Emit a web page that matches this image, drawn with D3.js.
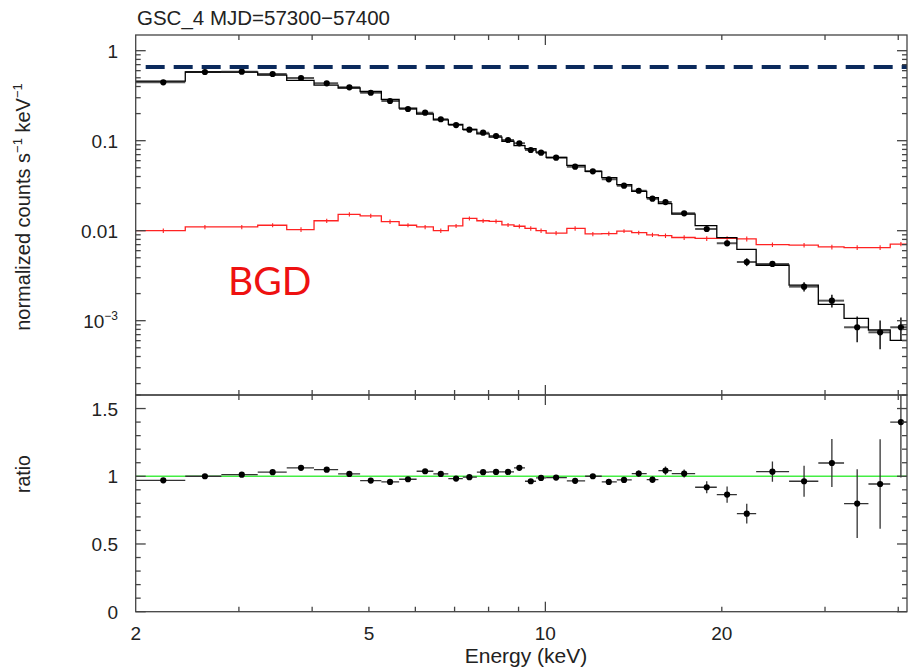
<!DOCTYPE html>
<html><head><meta charset="utf-8">
<script src="https://cdn.jsdelivr.net/npm/d3@7"></script>
<style>body{margin:0;background:#fff} svg{display:block}</style>
</head><body>
<svg id="c" width="908" height="668"></svg>
<script>
// ---------------- data ----------------
const binEdges = [2.00, 2.43, 2.80, 3.23, 3.62, 4.03, 4.43, 4.83, 5.25, 5.63, 6.03, 6.44, 6.83, 7.23, 7.64, 8.02, 8.43, 8.84, 9.23, 9.64, 10.03, 10.88, 11.69, 12.48, 13.24, 14.04, 14.89, 15.59, 16.43, 18.01, 19.61, 21.22, 22.89, 26.05, 29.22, 32.33, 35.58, 38.76, 42.1];
const energy = [2.229, 2.625, 3.034, 3.425, 3.829, 4.236, 4.630, 5.036, 5.432, 5.829, 6.235, 6.631, 7.041, 7.419, 7.830, 8.238, 8.636, 9.028, 9.442, 9.832, 10.43, 11.24, 12.05, 12.83, 13.62, 14.43, 15.23, 16.03, 17.25, 18.85, 20.42, 22.06, 24.40, 27.63, 30.82, 34.04, 37.25, 40.42];
const flux = [0.445, 0.580, 0.584, 0.551, 0.497, 0.434, 0.392, 0.341, 0.276, 0.225, 0.205, 0.173, 0.149, 0.1325, 0.1227, 0.1128, 0.1018, 0.0936, 0.0788, 0.0736, 0.0647, 0.0514, 0.0457, 0.0372, 0.0316, 0.0278, 0.0227, 0.0208, 0.0156, 0.01044, 0.00724, 0.00449, 0.00427, 0.00239, 0.00167, 0.000845, 0.000743, 0.000845];
const fluxErr = [0.004, 0.005, 0.005, 0.005, 0.004, 0.004, 0.003, 0.003, 0.0025, 0.002, 0.002, 0.0017, 0.0015, 0.0013, 0.0012, 0.0011, 0.001, 0.001, 0.0012, 0.0011, 0.0008, 0.0008, 0.0007, 0.0006, 0.0006, 0.0006, 0.0006, 0.0007, 0.0005, 0.0005, 0.0005, 0.00045, 0.0003, 0.00028, 0.00027, 0.00027, 0.00026, 0.00024];
const model = [0.459, 0.580, 0.577, 0.535, 0.468, 0.414, 0.385, 0.352, 0.288, 0.230, 0.198, 0.170, 0.152, 0.1334, 0.1191, 0.1093, 0.0986, 0.0881, 0.0818, 0.0745, 0.0654, 0.0532, 0.0457, 0.0388, 0.0325, 0.0273, 0.0233, 0.0200, 0.0153, 0.01136, 0.00837, 0.0062, 0.00413, 0.00248, 0.00152, 0.00106, 0.000788, 0.000604];
const ratio = [0.970, 1.000, 1.012, 1.030, 1.062, 1.049, 1.017, 0.968, 0.958, 0.978, 1.037, 1.017, 0.983, 0.993, 1.030, 1.032, 1.032, 1.062, 0.963, 0.988, 0.990, 0.966, 1.000, 0.958, 0.973, 1.020, 0.975, 1.042, 1.020, 0.919, 0.865, 0.724, 1.034, 0.963, 1.098, 0.798, 0.943, 1.400];
const ratioErr = [0.009, 0.009, 0.009, 0.009, 0.009, 0.009, 0.009, 0.009, 0.009, 0.009, 0.01, 0.01, 0.01, 0.01, 0.01, 0.01, 0.012, 0.012, 0.016, 0.016, 0.013, 0.015, 0.016, 0.016, 0.02, 0.022, 0.024, 0.03, 0.03, 0.044, 0.06, 0.073, 0.075, 0.115, 0.177, 0.254, 0.33, 0.41];
const bgd = [0.0100, 0.0110, 0.0110, 0.0115, 0.0103, 0.0129, 0.0152, 0.0146, 0.0126, 0.0115, 0.0110, 0.0100, 0.0113, 0.0137, 0.0129, 0.0127, 0.0116, 0.0112, 0.0106, 0.0100, 0.0094, 0.0106, 0.0092, 0.0093, 0.0099, 0.0095, 0.0090, 0.0088, 0.0084, 0.0082, 0.0082, 0.0081, 0.0070, 0.0069, 0.0066, 0.0065, 0.0065, 0.0071];
const bgdErr = [0.0006, 0.0006, 0.0006, 0.0006, 0.0006, 0.0007, 0.0008, 0.0008, 0.0007, 0.0006, 0.0006, 0.0006, 0.0006, 0.0007, 0.0007, 0.0007, 0.0006, 0.0006, 0.0006, 0.0006, 0.0005, 0.0006, 0.0005, 0.0005, 0.0005, 0.0005, 0.0005, 0.0005, 0.0005, 0.0005, 0.0005, 0.0005, 0.0004, 0.0004, 0.0004, 0.0004, 0.0004, 0.0004];
const refLevel = [0.66];
const refStart = [2.08];
const xDomain = [2, 41.4];
const yTopDomain = [1.494e-4, 1.494];
const yRatioDomain = [0, 1.6];
const xLabelTicks = [2, 5, 10, 20];
const xMajorTicks = [10];
const xMinorTicks = [3, 4, 5, 6, 7, 8, 9, 20, 30, 40];
const yTopLabels = [[1, "1"], [0.1, "0.1"], [0.01, "0.01"], [0.001, "10", "−3"]];
const yRatioMajor = [0, 0.5, 1, 1.5];
const yRatioMinor = [0.1, 0.2, 0.3, 0.4, 0.6, 0.7, 0.8, 0.9, 1.1, 1.2, 1.3, 1.4, 1.6];
const titleText = "GSC_4 MJD=57300−57400";

// ---------------- layout ----------------
const L = 135.7, R = 907, T1 = 35, B1 = 395, T2 = 395, B2 = 611.7;
const svg = d3.select("#c");
const FONT = "'Liberation Sans', Arial, Helvetica, sans-serif";
const TXT = "#222";
const AX = "#444";

const x = d3.scaleLog().domain(xDomain).range([L, R]);
const yT = d3.scaleLog().domain(yTopDomain).range([B1, T1]);
const yR = d3.scaleLinear().domain(yRatioDomain).range([B2, T2]);

const defs = svg.append("defs");
defs.append("clipPath").attr("id", "clipT").append("rect").attr("x", L).attr("y", T1).attr("width", R - L).attr("height", B1 - T1);
defs.append("clipPath").attr("id", "clipR").append("rect").attr("x", L).attr("y", T2).attr("width", R - L).attr("height", B2 - T2);

// ---------------- top panel ----------------
const gT = svg.append("g").attr("clip-path", "url(#clipT)");
const n = flux.length;
const stepPts = arr => binEdges.map((e, i) => [e, arr[Math.min(i, n - 1)]]);
const stepLine = d3.line().x(d => x(d[0])).y(d => yT(d[1])).curve(d3.curveStepAfter);

// background (red)
gT.append("path").attr("d", stepLine(stepPts(bgd))).attr("fill", "none").attr("stroke", "#ff2222").attr("stroke-width", 1.3);
gT.selectAll(".bt").data(energy).join("line")
  .attr("x1", d => x(d)).attr("x2", d => x(d))
  .attr("y1", (d, i) => yT(bgd[i] - bgdErr[i])).attr("y2", (d, i) => yT(bgd[i] + bgdErr[i]))
  .attr("stroke", "#ff2222").attr("stroke-width", 1.1);

// data bars
gT.selectAll(".hb").data(energy).join("line")
  .attr("x1", (d, i) => x(binEdges[i])).attr("x2", (d, i) => x(binEdges[i + 1]))
  .attr("y1", (d, i) => yT(flux[i])).attr("y2", (d, i) => yT(flux[i]))
  .attr("stroke", "#555").attr("stroke-width", 2);
gT.selectAll(".vb").data(energy).join("line")
  .attr("x1", d => x(d)).attr("x2", d => x(d))
  .attr("y1", (d, i) => yT(flux[i] - fluxErr[i])).attr("y2", (d, i) => yT(flux[i] + fluxErr[i]))
  .attr("stroke", "#222").attr("stroke-width", 1.6);
// model step (black)
gT.append("path").attr("d", stepLine(stepPts(model))).attr("fill", "none").attr("stroke", "#000").attr("stroke-width", 1.3);
gT.selectAll(".dt").data(energy).join("circle")
  .attr("cx", d => x(d)).attr("cy", (d, i) => yT(flux[i])).attr("r", 3.1).attr("fill", "#000");

// reference dashed level
gT.append("line").attr("x1", x(refStart[0])).attr("x2", R).attr("y1", yT(refLevel[0])).attr("y2", yT(refLevel[0]))
  .attr("stroke", "#0b2a5c").attr("stroke-width", 4).attr("stroke-dasharray", "19 9");

// ---------------- ratio panel ----------------
const gR = svg.append("g").attr("clip-path", "url(#clipR)");
gR.append("line").attr("x1", L).attr("x2", R).attr("y1", yR(1)).attr("y2", yR(1)).attr("stroke", "#44ee44").attr("stroke-width", 1.5);
gR.selectAll(".rh").data(energy).join("line")
  .attr("x1", (d, i) => x(binEdges[i])).attr("x2", (d, i) => x(binEdges[i + 1]))
  .attr("y1", (d, i) => yR(ratio[i])).attr("y2", (d, i) => yR(ratio[i]))
  .attr("stroke", "#333").attr("stroke-width", 1.3);
gR.selectAll(".rv").data(energy).join("line")
  .attr("x1", d => x(d)).attr("x2", d => x(d))
  .attr("y1", (d, i) => yR(ratio[i] - ratioErr[i])).attr("y2", (d, i) => yR(ratio[i] + ratioErr[i]))
  .attr("stroke", "#333").attr("stroke-width", 1.3);
gR.selectAll(".rd").data(energy).join("circle")
  .attr("cx", d => x(d)).attr("cy", (d, i) => yR(ratio[i])).attr("r", 3.1).attr("fill", "#000");

// ---------------- axes / frames ----------------
const gA = svg.append("g").attr("stroke", AX).attr("stroke-width", 1.3);
function frame(top, bot) {
  gA.append("rect").attr("x", L).attr("y", top).attr("width", R - L).attr("height", bot - top).attr("fill", "none");
}
frame(T1, B1); frame(T2, B2);
function xTicksFor(top, bot) {
  xMinorTicks.forEach(v => {
    gA.append("line").attr("x1", x(v)).attr("x2", x(v)).attr("y1", top).attr("y2", top + 5);
    gA.append("line").attr("x1", x(v)).attr("x2", x(v)).attr("y1", bot).attr("y2", bot - 5);
  });
  xMajorTicks.forEach(v => {
    gA.append("line").attr("x1", x(v)).attr("x2", x(v)).attr("y1", top).attr("y2", top + 10);
    gA.append("line").attr("x1", x(v)).attr("x2", x(v)).attr("y1", bot).attr("y2", bot - 10);
  });
}
xTicksFor(T1, B1); xTicksFor(T2, B2);
function yTick(yy, len) {
  gA.append("line").attr("x1", L).attr("x2", L + len).attr("y1", yy).attr("y2", yy);
  gA.append("line").attr("x1", R).attr("x2", R - len).attr("y1", yy).attr("y2", yy);
}
for (let e = -4; e <= 0; e++) {
  for (let m = 1; m <= 9; m++) {
    const v = m * Math.pow(10, e);
    if (v < yTopDomain[0] || v > yTopDomain[1]) continue;
    yTick(yT(v), m === 1 ? 10 : 5);
  }
}
yRatioMajor.forEach(v => yTick(yR(v), 10));
yRatioMinor.forEach(v => yTick(yR(v), 5));

// ---------------- text ----------------
const gt = svg.append("g").attr("font-family", FONT).attr("fill", TXT);
gt.append("text").attr("x", 137).attr("y", 25).attr("font-size", 20.5).text(titleText);

yTopLabels.forEach(d => {
  const t = gt.append("text").attr("x", 118).attr("y", yT(d[0]) + 7).attr("text-anchor", "end").attr("font-size", 19);
  if (d.length > 2) {
    t.append("tspan").text(d[1]);
    t.append("tspan").attr("font-size", 12).attr("dy", -8).text(d[2]);
  } else t.text(d[1]);
});
yRatioMajor.forEach(v => {
  gt.append("text").attr("x", 118).attr("y", yR(v) + 7).attr("text-anchor", "end").attr("font-size", 19).text(v === 0 ? "0" : String(v));
});
xLabelTicks.forEach(v => {
  gt.append("text").attr("x", x(v)).attr("y", 640).attr("text-anchor", "middle").attr("font-size", 19).text(String(v));
});
gt.append("text").attr("x", 526).attr("y", 663).attr("text-anchor", "middle").attr("font-size", 21).text("Energy (keV)");

const yl = gt.append("text").attr("transform", "translate(30,207) rotate(-90)").attr("text-anchor", "middle").attr("font-size", 20);
yl.append("tspan").text("normalized counts s");
yl.append("tspan").attr("font-size", 13).attr("dy", -8).text("−1");
yl.append("tspan").attr("dy", 8).text(" keV");
yl.append("tspan").attr("font-size", 13).attr("dy", -8).text("−1");

gt.append("text").attr("transform", "translate(30,474) rotate(-90)").attr("text-anchor", "middle").attr("font-size", 19.5).text("ratio");

svg.append("text").attr("x", 228).attr("y", 295).attr("font-family", "Lato, 'Open Sans', sans-serif").attr("font-size", 39).attr("fill", "#ee1111").text("BGD");
</script>
</body></html>
